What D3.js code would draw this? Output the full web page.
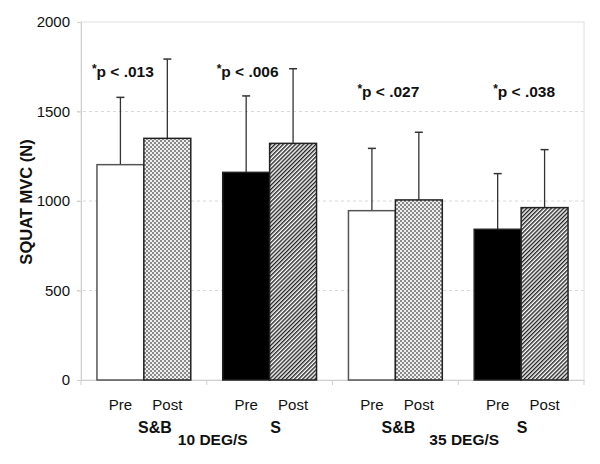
<!DOCTYPE html>
<html><head><meta charset="utf-8">
<script src="https://cdn.jsdelivr.net/npm/d3@7"></script>
<style>body{margin:0;background:#fff}svg{display:block;font-family:"Liberation Sans",Arial,sans-serif}</style>
</head><body><svg id="c" width="600" height="464"></svg>
<script>
const speeds = ["10 DEG/S", "35 DEG/S"];
const groups = ["S&B", "S"];
const times = ["Pre", "Post"];
// order: 10 S&B, 10 S, 35 S&B, 35 S
const meanPre  = [1203, 1160, 946, 842];
const meanPost = [1350, 1322, 1006, 963];
const sdPre  = [376, 427, 348, 311];
const sdPost = [443, 417, 378, 324];
const pLabels = ["*p < .013", "*p < .006", "*p < .027", "*p < .038"];
const yTicks = [0, 500, 1000, 1500, 2000];

const svg = d3.select("#c");
const m = {l: 81, r: 584, t: 22, b: 380};
const y = d3.scaleLinear().domain([0, 2000]).range([m.b, m.t]);
const cells = [];
speeds.forEach(s => groups.forEach(g => cells.push(s + "|" + g)));
const xg = d3.scaleBand().domain(cells).range([m.l, m.r]).paddingInner(0).paddingOuter(0);
const xb = d3.scaleBand().domain(times).range([0, xg.bandwidth()]).paddingInner(0).paddingOuter(0.34);

const defs = svg.append("defs");
const chk = defs.append("pattern").attr("id", "chk").attr("patternUnits", "userSpaceOnUse").attr("width", 4).attr("height", 4);
chk.append("rect").attr("width", 4).attr("height", 4).attr("fill", "#efefef");
chk.append("rect").attr("width", 2).attr("height", 2).attr("fill", "#8a8a8a");
chk.append("rect").attr("x", 2).attr("y", 2).attr("width", 2).attr("height", 2).attr("fill", "#8a8a8a");
const hat = defs.append("pattern").attr("id", "hat").attr("patternUnits", "userSpaceOnUse").attr("width", 2.9).attr("height", 2.9).attr("patternTransform", "rotate(45)");
hat.append("rect").attr("width", 2.9).attr("height", 2.9).attr("fill", "#fff");
hat.append("rect").attr("width", 1.4).attr("height", 2.9).attr("fill", "#222");

// gridlines
svg.append("g").selectAll("line").data(yTicks.filter(d => d > 0 && d < 2000)).join("line")
  .attr("x1", m.l - 4).attr("x2", m.r).attr("y1", d => y(d)).attr("y2", d => y(d))
  .attr("stroke", "#d8d8d8").attr("stroke-dasharray", "3,3");
// frame
svg.append("rect").attr("x", m.l).attr("y", m.t).attr("width", m.r - m.l).attr("height", m.b - m.t)
  .attr("fill", "none").attr("stroke", "#e0e0e0");

// y axis
const ya = svg.append("g").attr("transform", `translate(${m.l},0)`)
  .call(d3.axisLeft(y).tickValues(yTicks).tickFormat(d3.format("d")).tickSize(4).tickPadding(7));
ya.select(".domain").attr("stroke", "#d0d0d0");
ya.selectAll(".tick line").attr("stroke", "#d0d0d0");
ya.selectAll(".tick text").attr("font-size", 15).attr("fill", "#111").attr("font-family", "Liberation Sans, Arial");

// x axis baseline + group ticks
const xa = svg.append("g").attr("transform", `translate(0,${m.b})`)
  .call(d3.axisBottom(xg).tickSize(0).tickFormat(""));
xa.select(".domain").attr("stroke", "#d0d0d0");
svg.append("g").selectAll("line").data(d3.range(cells.length + 1)).join("line")
  .attr("x1", i => m.l + i * xg.bandwidth()).attr("x2", i => m.l + i * xg.bandwidth())
  .attr("y1", m.b).attr("y2", m.b + 5).attr("stroke", "#d0d0d0");

// bars
const fills = [["#fff", "url(#chk)"], ["#000", "url(#hat)"]];
const pDx = [-21, -22, -7, 3];
const pY = [77, 77, 97, 97];
const gDx = [11, 6, 3, 1];
cells.forEach((c, i) => {
  const gi = i % 2;
  const vals = [meanPre[i], meanPost[i]];
  const sds = [sdPre[i], sdPost[i]];
  times.forEach((t, j) => {
    const x0 = xg(c) + xb(t);
    const cx = x0 + xb.bandwidth() / 2;
    // error bar
    svg.append("line").attr("x1", cx).attr("x2", cx).attr("y1", y(vals[j])).attr("y2", y(vals[j] + sds[j]))
      .attr("stroke", "#333").attr("stroke-width", 1.3);
    svg.append("line").attr("x1", cx - 4).attr("x2", cx + 4).attr("y1", y(vals[j] + sds[j])).attr("y2", y(vals[j] + sds[j]))
      .attr("stroke", "#333").attr("stroke-width", 1.5);
    svg.append("rect").attr("x", x0).attr("y", y(vals[j])).attr("width", xb.bandwidth()).attr("height", y(0) - y(vals[j]))
      .attr("fill", fills[gi][j]).attr("stroke", (gi === 0 && j === 0) ? "#555" : "#222").attr("stroke-width", 1.5);
    svg.append("text").attr("x", cx).attr("y", 410).attr("text-anchor", "middle")
      .attr("font-size", 15).attr("fill", "#111").text(t);
  });
  // p label
  const pl = svg.append("text").attr("x", xg(c) + xg.bandwidth() / 2 + pDx[i]).attr("y", pY[i])
    .attr("text-anchor", "middle").attr("font-size", 15.5).attr("font-weight", "bold").attr("fill", "#111");
  pl.append("tspan").attr("font-size", 12).attr("dy", -4).text(pLabels[i].slice(0, 1));
  pl.append("tspan").attr("dy", 4).text(pLabels[i].slice(1));
  // group label
  svg.append("text").attr("x", xg(c) + xg.bandwidth() / 2 + gDx[i]).attr("y", 433)
    .attr("text-anchor", "middle").attr("font-size", 16).attr("font-weight", "bold").attr("fill", "#111").text(groups[gi]);
});
speeds.forEach((s, k) => {
  svg.append("text").attr("x", m.l + (2 * k + 1) * xg.bandwidth() + 6).attr("y", 445).attr("text-anchor", "middle")
    .attr("font-size", 15.5).attr("font-weight", "bold").attr("fill", "#111").text(s);
});
svg.append("text").attr("transform", `translate(32,202) rotate(-90)`).attr("text-anchor", "middle")
  .attr("font-size", 16.5).attr("font-weight", "bold").attr("fill", "#111").text("SQUAT MVC (N)");
</script></body></html>
